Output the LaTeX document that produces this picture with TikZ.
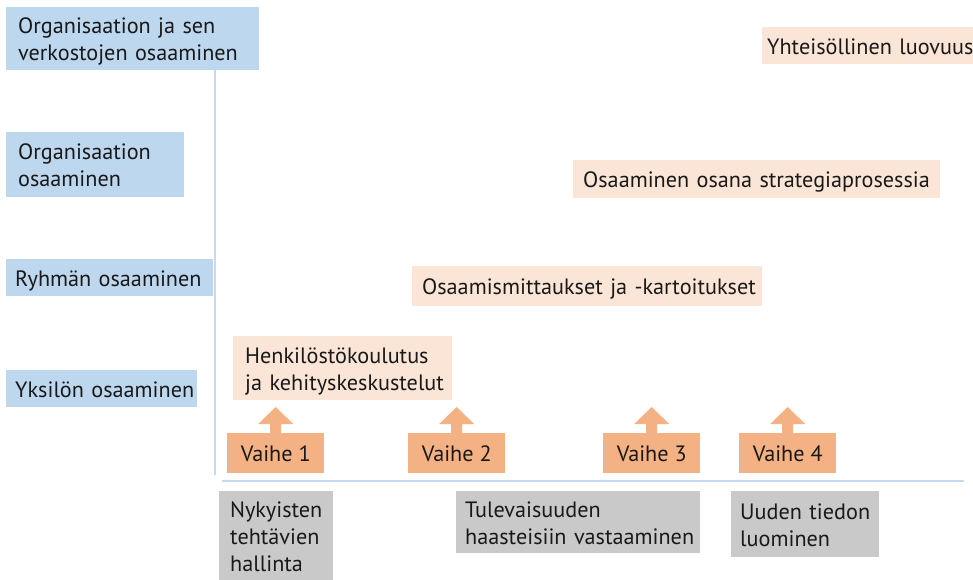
\documentclass[tikz,border=0pt]{standalone}
\usepackage{fontspec}
\setmainfont{PT Sans}
\usetikzlibrary{calc}
\definecolor{lvlblue}{HTML}{BDD7EE}
\definecolor{lineblue}{HTML}{C3DAF0}
\definecolor{peach}{HTML}{FBE5D6}
\definecolor{vaihe}{HTML}{F4B183}
\definecolor{greybox}{HTML}{C9C9C9}
\newcommand\tline[1]{\mbox{\rule[-5pt]{0pt}{27pt}#1}}
\tikzset{
  bx/.style={rectangle, inner xsep=12pt, inner ysep=0pt, align=left, anchor=north west,
    font=\fontsize{22.2}{27}\selectfont, text=black!90},
  lvl/.style={bx, fill=lvlblue},
  act/.style={bx, fill=peach},
  grey/.style={bx, fill=greybox, inner xsep=10pt},
  vbox/.style={rectangle, fill=vaihe, inner sep=0pt, anchor=north west, align=center,
    minimum width=97pt, minimum height=40pt, font=\fontsize{22.2}{27}\selectfont, text=black!90},
  axis/.style={draw=lineblue, line width=2.5pt},
  uparrow/.style={fill=vaihe}
}
\begin{document}
\begin{tikzpicture}[x=1pt,y=-1pt]
\useasboundingbox (0,0) rectangle (973,580);
% level boxes
\node[lvl, minimum width=253pt, minimum height=63pt, text width=229pt] (b1) at (6,7) {\tline{Organisaation ja sen}\\\tline{verkostojen osaaminen}};
\node[lvl, minimum width=178pt, minimum height=65pt, text width=154pt] (b2) at (6,132) {\tline{Organisaation}\\\tline{osaaminen}};
\node[lvl, minimum width=207pt, minimum height=37pt, text width=189pt, inner xsep=9pt] (b3) at (6,259) {\tline{Ryhmän osaaminen}};
\node[lvl, minimum width=191pt, minimum height=37pt, text width=173pt, inner xsep=9pt] (b4) at (6,370) {\tline{Yksilön osaaminen}};
% activities
\node[act, minimum width=219pt, minimum height=64pt, text width=195pt] (p1) at (233,336) {\tline{Henkilöstökoulutus}\\\tline{ja kehityskeskustelut}};
\node[act, minimum width=350pt, minimum height=40pt, text width=330pt, inner xsep=10pt] (p2) at (412,266) {\tline{Osaamismittaukset ja -kartoitukset}};
\node[act, minimum width=367pt, minimum height=38pt, text width=347pt, inner xsep=10pt] (p3) at (573,160) {\tline{Osaaminen osana strategiaprosessia}};
\node[act, minimum width=211pt, minimum height=37pt, text width=201pt, inner xsep=5pt] (p4) at (762,27) {\tline{Yhteisöllinen luovuus}};
% phases
\node[vbox] (v1) at (227,433) {\tline{Vaihe 1}};
\node[vbox] (v2) at (408,433) {\tline{Vaihe 2}};
\node[vbox] (v3) at (603,433) {\tline{Vaihe 3}};
\node[vbox] (v4) at (739,433) {\tline{Vaihe 4}};
\foreach \v in {v1,v2,v3,v4}{
  \fill[uparrow] ($(\v.north)+(-5.5,0)$) -- ++(0,-9) -- ++(-12,0) -- ($(\v.north)+(0,-26)$)
     -- ($(\v.north)+(17.5,-9)$) -- ++(-12,0) -- ($(\v.north)+(5.5,0)$) -- cycle;
}
% axes
\coordinate (vtop) at (215,70);
\coordinate (vbot) at (215,475);
\coordinate (hl) at (222,481);
\coordinate (hr) at (964,481);
\draw[axis] (vtop) -- (vbot);
\draw[axis] (hl) -- (hr);
% grey boxes
\node[grey, minimum width=114pt, minimum height=89pt, text width=92pt, inner xsep=11pt] (g1) at (219,491) {\tline{Nykyisten}\\\tline{tehtävien}\\\tline{hallinta}};
\node[grey, minimum width=244pt, minimum height=62pt, text width=226pt, inner xsep=9pt] (g2) at (456,491) {\tline{Tulevaisuuden}\\\tline{haasteisiin vastaaminen}};
\node[grey, minimum width=148pt, minimum height=66pt, text width=130pt, inner xsep=9pt] (g3) at (731,491) {\tline{Uuden tiedon}\\\tline{luominen}};
\end{tikzpicture}
\end{document}
